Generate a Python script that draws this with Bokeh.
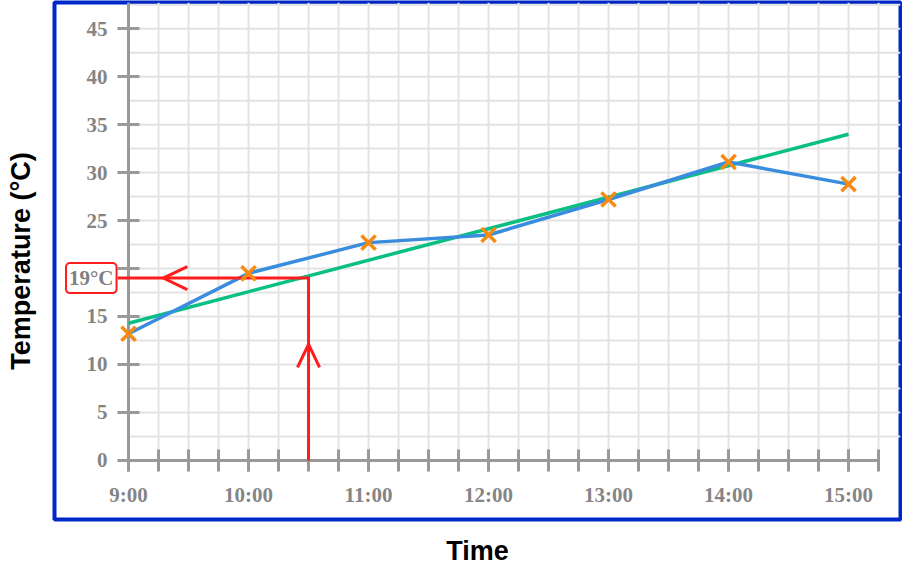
import numpy as np
from bokeh.plotting import figure
from bokeh.models import LinearAxis, FixedTicker, Range1d, Label
from bokeh.embed import file_html
from bokeh.resources import INLINE

# ---- data ----
hours = [9, 10, 11, 12, 13, 14, 15]
hour_labels = ["9:00", "10:00", "11:00", "12:00", "13:00", "14:00", "15:00"]
temps = [13.2, 19.5, 22.7, 23.5, 27.2, 31.1, 28.8]
trend_hours = [9, 15]
trend_temps = [14.3, 34.0]
y_ticks = [0, 5, 10, 15, 20, 25, 30, 35, 40, 45]
read_time = 10.5
read_temp = 19

# ---- ranges / styling ----
X0, X1 = 8.383, 15.433
Y0, Y1 = -6.16, 47.73
GRID = "#e3e3e3"
AXIS = "#999999"
TICKLBL = "#858585"
BLUE = "#3a8ddd"
GREEN = "#0abf83"
ORANGE = "#f68a12"
RED = "#ff1c1c"
FRAME = "#0028c8"

p = figure(width=902, height=568, x_range=Range1d(X0, X1), y_range=Range1d(Y0, Y1),
           output_backend="svg", toolbar_location=None,
           min_border_left=54, min_border_right=2, min_border_top=2, min_border_bottom=47,
           outline_line_color=FRAME, outline_line_width=4,
           background_fill_color="white", border_fill_color="white")
p.xgrid.visible = False
p.ygrid.visible = False

# grid (quarter hours, 2.5 degrees), bounded by the axes
vx = [float(v) for v in np.arange(9, 15.26, 0.25)]
hy = [float(v) for v in np.arange(2.5, 47.6, 2.5)]
p.segment(x0=vx, y0=0, x1=vx, y1=Y1, line_color=GRID, line_width=2)
p.segment(x0=9, y0=hy, x1=X1, y1=hy, line_color=GRID, line_width=2)

# y axis at 9:00
ya = p.yaxis[0]
ya.fixed_location = 9
ya.ticker = FixedTicker(ticks=y_ticks)
ya.bounds = (0, Y1)
ya.axis_line_color = AXIS
ya.axis_line_width = 3
ya.major_tick_in = 11
ya.major_tick_out = 11
ya.major_tick_line_color = AXIS
ya.major_tick_line_width = 3
ya.minor_tick_line_color = None
ya.major_label_text_font = "Liberation Serif"
ya.major_label_text_font_style = "bold"
ya.major_label_text_font_size = "21px"
ya.major_label_text_color = TICKLBL
ya.major_label_standoff = 10

# x axis at 0 degrees
xa = p.xaxis[0]
xa.fixed_location = 0
xa.ticker = FixedTicker(ticks=hours, minor_ticks=vx)
xa.bounds = (9, 15.25)
xa.major_label_overrides = dict(zip(hours, hour_labels))
xa.axis_line_color = AXIS
xa.axis_line_width = 3
xa.major_tick_in = 11
xa.major_tick_out = 11
xa.major_tick_line_color = AXIS
xa.major_tick_line_width = 3
xa.minor_tick_in = 11
xa.minor_tick_out = 11
xa.minor_tick_line_color = AXIS
xa.minor_tick_line_width = 3
xa.major_label_text_font = "Liberation Serif"
xa.major_label_text_font_style = "bold"
xa.major_label_text_font_size = "21px"
xa.major_label_text_color = TICKLBL
xa.major_label_standoff = 12

# axis titles outside the frame
def title_axis(text, standoff):
    return LinearAxis(axis_label=text, ticker=FixedTicker(ticks=[]),
                      axis_line_color=None, major_tick_line_color=None,
                      minor_tick_line_color=None,
                      axis_label_text_font="Liberation Sans",
                      axis_label_text_font_style="bold",
                      axis_label_text_font_size="27px",
                      axis_label_text_color="black",
                      axis_label_standoff=standoff)

p.add_layout(title_axis("Temperature (°C)", 19), "left")
p.add_layout(title_axis("Time", 16), "below")

# line of best fit and data line (drawn above the axes)
p.line(trend_hours, trend_temps, line_color=GREEN, line_width=3.5, level="annotation")
p.line(hours, temps, line_color=BLUE, line_width=3.5, level="annotation")

# reading off the graph
p.line([read_time, read_time, 9 - 0.09], [0, read_temp, read_temp],
       line_color=RED, line_width=3, line_join="miter", level="annotation")
up_tip = 12.1
left_tip = 9.29
p.multi_line(xs=[[read_time - 0.092, read_time, read_time + 0.092],
                 [left_tip + 0.2, left_tip, left_tip + 0.2]],
             ys=[[up_tip - 2.4, up_tip, up_tip - 2.4],
                 [read_temp + 1.2, read_temp, read_temp - 1.2]],
             line_color=RED, line_width=3, line_join="miter", level="annotation")

# data points
p.scatter(hours, temps, marker="x", size=20, line_color=ORANGE, line_width=3.5,
          level="annotation")

lbl = Label(x=9, y=read_temp, x_offset=-12, text=f"{read_temp}°C",
            text_align="right", text_baseline="middle",
            text_font="Liberation Serif", text_font_style="bold",
            text_font_size="21px", text_color="#808080",
            background_fill_color="white", border_line_color=RED,
            border_line_width=2, padding=3, border_radius=4)
p.add_layout(lbl)

open("out.html", "w").write(file_html(p, INLINE))
